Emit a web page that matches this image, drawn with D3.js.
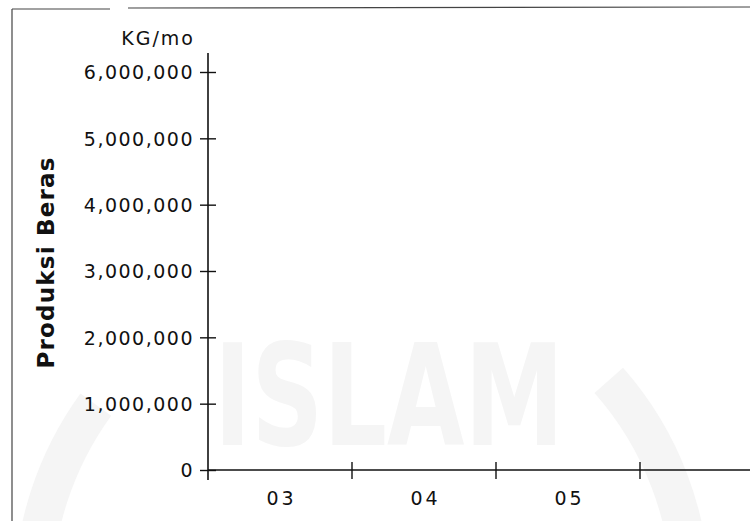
<!DOCTYPE html>
<html>
<head>
<meta charset="utf-8">
<script src="https://cdn.jsdelivr.net/npm/d3@7"></script>
<style>
  html, body { margin: 0; padding: 0; background: #fff; }
  svg { display: block; }
  text { font-family: "DejaVu Sans", Verdana, sans-serif; fill: #111; }
</style>
</head>
<body>
<svg id="chart" width="750" height="521"></svg>
<script>
// ---- data ----
const categories = ["03", "04", "05"];
const yTickValues = [0, 1000000, 2000000, 3000000, 4000000, 5000000, 6000000];
const yDomain = [0, 6000000];
const unitLabel = "KG/mo";
const yTitle = "Produksi Beras";
const watermarkText = "ISLAM";

// ---- layout ----
const W = 750, H = 521;
const axisX = 208, axisY0 = 470, axisYTop = 72;
const svg = d3.select("#chart");

// faint scanned watermark (background)
const ringArc = d3.arc().innerRadius(310).outerRadius(348);
const wmG = svg.append("g").attr("transform", "translate(362,598)");
wmG.append("path").attr("d", ringArc({startAngle: -Math.PI * 0.50, endAngle: -Math.PI * 0.30})).attr("fill", "#f5f5f5");
wmG.append("path").attr("d", ringArc({startAngle: Math.PI * 0.27, endAngle: Math.PI * 0.50})).attr("fill", "#f5f5f5");
svg.append("text")
  .attr("x", 214).attr("y", 445)
  .attr("textLength", 350).attr("lengthAdjust", "spacingAndGlyphs")
  .style("font-size", "140px").style("font-weight", "bold")
  .style("fill", "#f5f5f5")
  .text(watermarkText);

// page border (scan frame)
svg.append("line").attr("x1", 12).attr("x2", 110).attr("y1", 9).attr("y2", 9)
  .attr("stroke", "#444").attr("stroke-width", 1.2);
svg.append("line").attr("x1", 128).attr("x2", W).attr("y1", 8).attr("y2", 7)
  .attr("stroke", "#444").attr("stroke-width", 1.2);
svg.append("line").attr("x1", 12).attr("x2", 12).attr("y1", 9).attr("y2", H)
  .attr("stroke", "#444").attr("stroke-width", 1.2);

// ---- scales ----
const y = d3.scaleLinear().domain(yDomain).range([axisY0, axisYTop]);
const x = d3.scaleBand().domain(categories).range([axisX, 640]).paddingInner(0).paddingOuter(0);

// ---- y axis ----
const fmt = d3.format(",");
const yAxis = d3.axisLeft(y).tickValues(yTickValues).tickFormat(fmt).tickSizeInner(8).tickSizeOuter(0);
const gy = svg.append("g").attr("transform", `translate(${axisX},0)`).call(yAxis);
gy.select(".domain").remove();
gy.selectAll(".tick line").attr("x1", 8).attr("x2", -8).attr("stroke", "#111").attr("stroke-width", 1.4);
gy.selectAll(".tick text")
  .attr("x", -14).attr("dy", "0.36em")
  .style("font-size", "19px").style("letter-spacing", "1.5px")
  .attr("fill", "#111").attr("font-family", null).attr("font-size", null);
gy.append("line").attr("x1", 0).attr("x2", 0).attr("y1", y(yDomain[1]) - 19).attr("y2", y(0) + 10)
  .attr("stroke", "#111").attr("stroke-width", 1.6);

// ---- x axis ----
const gx = svg.append("g");
gx.append("line").attr("x1", axisX).attr("x2", W).attr("y1", y(0)).attr("y2", y(0))
  .attr("stroke", "#111").attr("stroke-width", 1.6);
gx.selectAll(".xtick").data(categories).join("line")
  .attr("class", "xtick")
  .attr("x1", d => x(d) + x.bandwidth()).attr("x2", d => x(d) + x.bandwidth())
  .attr("y1", y(0) - 8).attr("y2", y(0) + 9)
  .attr("stroke", "#111").attr("stroke-width", 1.4);
gx.selectAll(".xlab").data(categories).join("text")
  .attr("class", "xlab")
  .attr("x", d => x(d) + x.bandwidth() / 2 + 1.5)
  .attr("y", y(0) + 35)
  .attr("text-anchor", "middle")
  .style("font-size", "19px").style("letter-spacing", "3px")
  .text(d => d);

// ---- unit label ----
svg.append("text")
  .attr("x", 195).attr("y", 45)
  .attr("text-anchor", "end")
  .style("font-size", "19px").style("letter-spacing", "2px")
  .text(unitLabel);

// ---- y title ----
svg.append("text")
  .attr("transform", `translate(54,${(155 + 368) / 2 + 1}) rotate(-90)`)
  .attr("text-anchor", "middle")
  .style("font-size", "23px").style("font-weight", "bold").style("letter-spacing", "1.2px")
  .text(yTitle);
</script>
</body>
</html>
